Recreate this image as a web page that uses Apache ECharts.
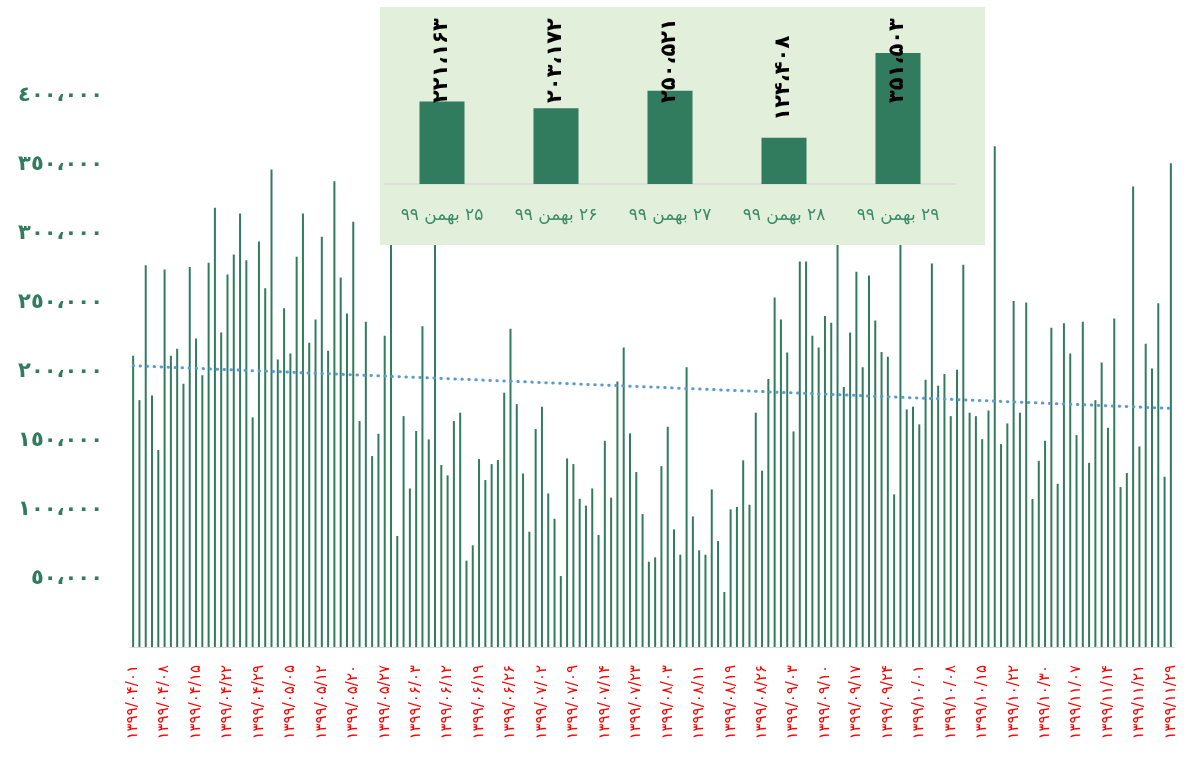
<!DOCTYPE html>
<html><head><meta charset="utf-8">
<script src="https://cdn.jsdelivr.net/npm/echarts@6/dist/echarts.min.js"></script>
<style>html,body{margin:0;padding:0;background:#fff}#c{width:1191px;height:771px}</style>
</head><body><div id="c"></div>
<script>
// Tick labels shown on the main x axis (every 5th working day)
const tickLabels = ['۱۳۹۹/۰۴/۰۱','۱۳۹۹/۰۴/۰۸','۱۳۹۹/۰۴/۱۵','۱۳۹۹/۰۴/۲۲','۱۳۹۹/۰۴/۲۹','۱۳۹۹/۰۵/۰۵','۱۳۹۹/۰۵/۱۲','۱۳۹۹/۰۵/۲۰','۱۳۹۹/۰۵/۲۷','۱۳۹۹/۰۶/۰۳','۱۳۹۹/۰۶/۱۲','۱۳۹۹/۰۶/۱۹','۱۳۹۹/۰۶/۲۶','۱۳۹۹/۰۷/۰۲','۱۳۹۹/۰۷/۰۹','۱۳۹۹/۰۷/۱۴','۱۳۹۹/۰۷/۲۳','۱۳۹۹/۰۸/۰۳','۱۳۹۹/۰۸/۱۱','۱۳۹۹/۰۸/۱۹','۱۳۹۹/۰۸/۲۶','۱۳۹۹/۰۹/۰۳','۱۳۹۹/۰۹/۱۰','۱۳۹۹/۰۹/۱۷','۱۳۹۹/۰۹/۲۴','۱۳۹۹/۱۰/۰۱','۱۳۹۹/۱۰/۰۸','۱۳۹۹/۱۰/۱۵','۱۳۹۹/۱۰/۲۲','۱۳۹۹/۱۰/۳۰','۱۳۹۹/۱۱/۰۷','۱۳۹۹/۱۱/۱۴','۱۳۹۹/۱۱/۲۱','۱۳۹۹/۱۱/۲۹'];

// Daily values (one per working day)
const dailyValues = [
211400,179200,277200,182600,143000,274000,211400,216500,191100,275800,
224000,197200,278900,318800,228400,270400,285000,314700,280800,166700,
294400,260500,346600,208800,246000,213100,283300,314700,220900,237800,
297800,215100,338200,268300,242100,308700,164000,236100,138600,154800,
225900,320000,80600,167600,115100,156800,232900,150700,330000,132100,
124600,164000,170100,62700,73800,136400,121200,132800,135700,184600,
231000,176300,126000,83700,158200,174400,111500,93100,51500,136900,
132800,107600,102600,115100,81300,149700,108400,192800,217500,155100,
127000,96500,61900,65100,131300,159900,85400,67000,203000,94800,
70200,67000,114400,76900,39900,99900,101600,135500,103300,170100,
128000,194500,253700,237800,213800,156500,279900,279900,225900,217500,
240200,235400,310000,188700,228400,272400,203000,269700,237100,214100,
210700,110800,320000,172500,174400,161600,194000,278400,189600,198100,
167600,201300,277500,170100,167600,150900,171700,363600,147300,162300,
251100,170100,250100,107400,135200,149700,231700,118500,235100,213100,
153800,236100,133700,179200,206600,159100,238500,116100,126300,334300,
145600,220100,202200,249600,123600,351200];

// Inset chart (last five days)
const insetCategories = ['۲۵ بهمن ۹۹','۲۶ بهمن ۹۹','۲۷ بهمن ۹۹','۲۸ بهمن ۹۹','۲۹ بهمن ۹۹'];
const insetValues = [221163, 203172, 250521, 124408, 351503];

const FA = '۰۱۲۳۴۵۶۷۸۹', AR = '٠١٢٣٤٥٦٧٨٩';
const toDigits = (s, set) => String(s).replace(/[0-9]/g, d => set[+d]);
const fromFa = s => s.replace(/[۰-۹]/g, d => FA.indexOf(d));
const groupFmt = (n, set) => toDigits(Math.round(n).toString().replace(/\B(?=(\d{3})+(?!\d))/g, '،'), set);

// Build category list: tick label every 5th position, following days in between
const categories = [];
for (let i = 0; i < dailyValues.length; i++) {
  const base = tickLabels[Math.floor(i / 5)];
  const k = i % 5;
  if (k === 0) { categories.push(base); continue; }
  let [y, m, d] = fromFa(base).split('/').map(Number);
  d += k;
  const ml = m <= 6 ? 31 : 30;
  if (d > ml) { d -= ml; m += 1; }
  categories.push(toDigits(y + '/' + String(m).padStart(2, '0') + '/' + String(d).padStart(2, '0'), FA));
}

// Linear trend (least squares over the daily values)
const n = dailyValues.length;
let sx = 0, sy = 0, sxy = 0, sxx = 0;
dailyValues.forEach((v, i) => { sx += i; sy += v; sxy += i * v; sxx += i * i; });
const slope = (n * sxy - sx * sy) / (n * sxx - sx * sx);
const icpt = (sy - slope * sx) / n;
const trend = dailyValues.map((_, i) => icpt + slope * i);

const GREEN = '#317b5e';
const chart = echarts.init(document.getElementById('c'));
chart.setOption({
  animation: false,
  textStyle: { fontFamily: 'DejaVu Sans' },
  graphic: [{
    type: 'rect', left: 380, top: 7, z: 50,
    shape: { width: 605, height: 238 },
    style: { fill: '#e2efda' }
  }],
  grid: [
    { left: 130, right: 17, top: 96, bottom: 124 },
    { left: 385, right: 236, top: 35, bottom: 587 }
  ],
  xAxis: [{
    type: 'category', data: categories, gridIndex: 0,
    axisTick: { show: false },
    axisLine: { lineStyle: { color: '#d9d9d9', width: 1 } },
    axisLabel: { interval: 4, rotate: 90, color: '#ff0000', fontSize: 15, margin: 18 }
  }, {
    type: 'category', data: insetCategories, gridIndex: 1, z: 60,
    axisTick: { show: false },
    axisLine: { lineStyle: { color: '#d9d9d9', width: 1.5 } },
    axisLabel: { color: '#3b8a68', fontSize: 17, margin: 23, formatter: v => '\u202B' + v + '\u202C' }
  }],
  yAxis: [{
    type: 'value', gridIndex: 0, min: 0, max: 400000, interval: 50000,
    splitLine: { show: false }, axisLine: { show: false }, axisTick: { show: false },
    axisLabel: { color: GREEN, fontSize: 21, fontWeight: 'bold', margin: 27,
      formatter: v => v === 0 ? '' : groupFmt(v, AR) }
  }, {
    type: 'value', gridIndex: 1, min: 0, max: 400000, show: false
  }],
  series: [{
    type: 'bar', xAxisIndex: 0, yAxisIndex: 0, data: dailyValues,
    barWidth: 2, itemStyle: { color: GREEN }, z: 2
  }, {
    type: 'line', xAxisIndex: 0, yAxisIndex: 0, data: trend,
    symbol: 'none', z: 3,
    lineStyle: { color: '#5b9bd5', width: 3, type: [0.5, 6.5], cap: 'round' }
  }, {
    type: 'bar', xAxisIndex: 1, yAxisIndex: 1, data: insetValues,
    barWidth: 45, itemStyle: { color: GREEN }, z: 60,
    label: { show: true, position: 'top', rotate: 90, align: 'left', verticalAlign: 'middle',
      distance: 17, color: '#000', fontSize: 21, fontWeight: 'bold',
      formatter: p => groupFmt(p.value, FA) },
    labelLayout: p => ({
      x: p.rect.x + p.rect.width / 2,
      y: Math.max(p.rect.y - 17, 103),
      rotate: 90, align: 'left', verticalAlign: 'middle'
    })
  }]
});
</script></body></html>
